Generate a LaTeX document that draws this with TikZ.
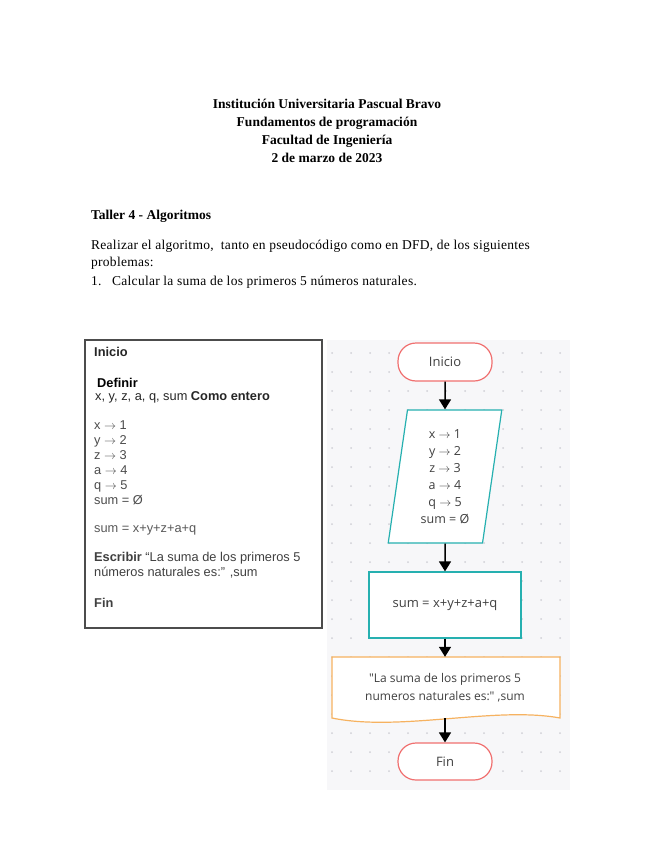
\documentclass[tikz,border=0pt]{standalone}
\usepackage{fontspec}
\setmainfont{Liberation Serif}
\setsansfont{Liberation Sans}
\newfontfamily\flujo{Open Sans}
\newfontfamily\espaciada[LetterSpace=2]{Liberation Serif}
\usetikzlibrary{arrows.meta,positioning,shapes.geometric}
\definecolor{rojoterm}{RGB}{240,112,112}
\definecolor{verdeazul}{RGB}{38,176,176}
\definecolor{naranja}{RGB}{246,178,96}
\definecolor{fondo}{RGB}{247,247,249}
\definecolor{punto}{RGB}{208,208,214}

\begin{document}
\begin{tikzpicture}[x=1pt,y=-1pt,
	titulo/.style={anchor=base,font=\bfseries\fontsize{13.5}{16}\selectfont},
	cuerpo/.style={anchor=base west,inner sep=0pt,font=\espaciada\fontsize{13.5}{16}\selectfont},
	linea/.style={anchor=west,inner sep=0pt,font=\sffamily\fontsize{12.8}{15}\selectfont,text=black!75},
	term/.style={draw=rojoterm,line width=1.2pt,fill=white,rounded corners=18pt,minimum width=94pt,minimum height=38pt,font=\flujo\fontsize{13}{17}\selectfont,text=black!75},
	entrada/.style={draw=verdeazul,line width=1.2pt,fill=white,trapezium,trapezium left angle=82,trapezium right angle=98,trapezium stretches=true,minimum width=114pt,minimum height=133pt,align=center,font=\flujo\fontsize{12.5}{17}\selectfont,text=black!75},
	proceso/.style={draw=verdeazul,line width=1.2pt,fill=white,minimum width=152pt,minimum height=66pt,font=\flujo\fontsize{13}{17}\selectfont,text=black!75},
	salida/.style={minimum width=228pt,minimum height=61pt,align=center,font=\flujo\fontsize{12}{18}\selectfont,text=black!75},
	flecha/.style={line width=1.5pt,-{Triangle[width=12pt,length=10pt]}}]
	\useasboundingbox[fill=white] (0,0) rectangle (655,848);
	% encabezado
	\node[titulo] (inst) at (327,109) {Institución Universitaria Pascual Bravo};
	\node[titulo] (curso) at (327,127) {Fundamentos de programación};
	\node[titulo] (fac) at (327,144) {Facultad de Ingeniería};
	\node[titulo] (fecha) at (327,162) {2 de marzo de 2023};
	\node[cuerpo,font=\bfseries\fontsize{13.5}{16}\selectfont] (taller) at (91,219) {Taller 4 - Algoritmos};
	\node[cuerpo] (enun) at (91,249) {Realizar el algoritmo,\ \ tanto en pseudocódigo como en DFD, de los siguientes};
	\node[cuerpo] (enun2) at (91,266) {problemas:};
	\node[cuerpo] (num) at (91,285) {1.};
	\node[cuerpo] (punto1) at (112,285) {Calcular la suma de los primeros 5 números naturales.};
	% pseudocodigo
	\draw[black!70,line width=1.2pt] (85,340) rectangle (322,628);
	\node[linea,font=\sffamily\bfseries\fontsize{12.8}{15}\selectfont,text=black!85] (pinicio) at (94,352) {Inicio};
	\node[linea,font=\sffamily\bfseries\fontsize{12.8}{15}\selectfont,text=black] (pdef) at (97,383) {Definir};
	\node[linea,text=black!85] (pvars) at (95,397) {x, y, z, a, q, sum \textbf{Como entero}};
	\node[linea,align=left,text=black!70] (pasig) at (94,463) {x $\rightarrow$ 1\\y $\rightarrow$ 2\\z $\rightarrow$ 3\\a $\rightarrow$ 4\\q $\rightarrow$ 5\\sum = \O};
	\node[linea,text=black!65] (psuma) at (94,530) {sum = x+y+z+a+q};
	\node[linea,align=left] (pesc) at (94,565) {\textbf{Escribir} “La suma de los primeros 5\\números naturales es:” ,sum};
	\node[linea,font=\sffamily\bfseries\fontsize{12.8}{15}\selectfont] (pfin) at (94,603) {Fin};
	% diagrama de flujo
	\fill[fondo] (327,340) rectangle (570,790);
	\foreach \i in {0,...,12}
		\foreach \j in {0,...,22}
			\fill[punto] (332+19*\i,353+19*\j) circle (1);
	\node[term] (inicio) at (445,362) {Inicio};
	\node[entrada] (datos) at (445,476.5) {x $\rightarrow$ 1\\y $\rightarrow$ 2\\z $\rightarrow$ 3\\a $\rightarrow$ 4\\q $\rightarrow$ 5\\sum = \O};
	\node[proceso] (suma) at (445,605) {sum = x+y+z+a+q};
	\fill[white,draw=naranja,line width=1.2pt] (332,657) -- (560,657) -- (560,718)
		.. controls (495,706) and (400,732) .. (332,718) -- cycle;
	\node[salida] (msj) at (445,687.5) {"La suma de los primeros 5\\numeros naturales es:" ,sum};
	\node[term,minimum height=37pt] (fin) at (445,761.5) {Fin};
	\draw[flecha] (inicio) -- (datos);
	\draw[flecha] (datos) -- (suma);
	\draw[flecha] (suma) -- (msj);
	\draw[flecha] (msj) -- (fin);
\end{tikzpicture}
\end{document}
